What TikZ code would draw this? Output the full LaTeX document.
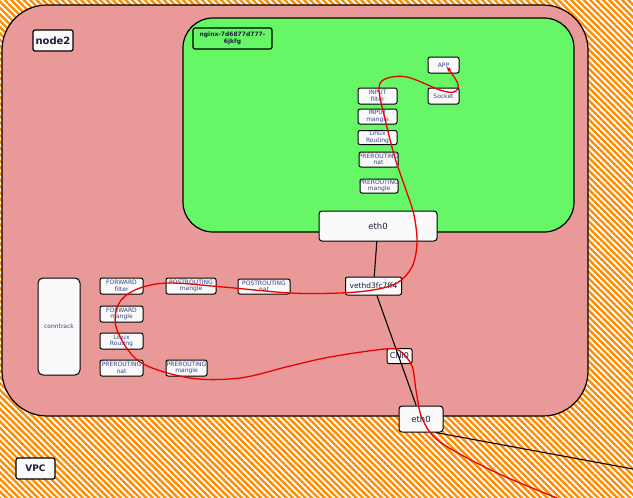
\documentclass[tikz,border=0pt]{standalone}
\usepackage{fontspec}
\setmainfont{DejaVu Sans}
\usetikzlibrary{arrows.meta,patterns.meta}
\definecolor{hatch}{RGB}{255,140,0}
\definecolor{hostbg}{RGB}{234,153,153}
\definecolor{podbg}{RGB}{102,246,102}
\definecolor{boxbg}{RGB}{250,250,250}
\definecolor{lbltxt}{RGB}{55,65,140}
\definecolor{ink}{RGB}{25,30,60}
\definecolor{flowred}{RGB}{235,0,0}
\newcommand{\twoline}[2]{\makebox[0pt]{#1}\\\makebox[0pt]{#2}}
\tikzset{
  area/.style={draw,line width=1.2pt},
  tbl/.style={draw,fill=boxbg,line width=1pt,rounded corners=2pt,align=center,font=\fontsize{6}{6.6}\selectfont,text=lbltxt,inner sep=0pt},
  tblpod/.style={tbl,minimum width=39pt,minimum height=15pt},
  tblhost/.style={tbl,minimum width=43pt,minimum height=16pt},
  ifc/.style={draw,fill=boxbg,line width=1pt,rounded corners=3pt,align=center,text=ink,inner sep=0pt},
  tag/.style={draw,fill=boxbg,line width=1.2pt,rounded corners=2pt,text=ink,font=\bfseries\fontsize{10}{12}\selectfont,inner sep=0pt},
  wire/.style={line width=1.1pt},
  flow/.style={draw=flowred,line width=1.3pt,-{Stealth[length=5pt,width=4.5pt]}}
}
\begin{document}
\begin{tikzpicture}[x=1pt,y=-1pt]
\useasboundingbox (0,0) rectangle (633,498);
\fill[white] (0,0) rectangle (633,498);
\fill[pattern={Lines[angle=-45,distance=4.5pt,line width=2.4pt]},pattern color=hatch] (0,0) rectangle (633,498);
\filldraw[area,fill=hostbg,rounded corners=45pt] (2,5) rectangle (588,416);
\filldraw[area,fill=podbg,rounded corners=30pt] (183,18) rectangle (574,232);

\node[tag,minimum width=40pt,minimum height=21pt] (node2) at (53,40.5) {node2};
\node[tag,minimum width=39pt,minimum height=21pt,font=\bfseries\fontsize{9}{11}\selectfont] (vpc) at (35.5,468.5) {VPC};
\node[draw,line width=1.2pt,rounded corners=2pt,minimum width=79pt,minimum height=21pt,align=center,inner sep=0pt,text=ink,font=\bfseries\fontsize{6}{7}\selectfont] (pod) at (232.5,38.5) {nginx-7d6877d777-\\6jkfg};

\node[tbl,minimum width=31pt,minimum height=16pt] (app) at (443.5,65) {APP};
\node[tbl,minimum width=31pt,minimum height=16pt] (socket) at (443.5,96) {Socket};
\node[tblpod,minimum height=16pt] (infilter) at (377.5,96) {\twoline{INPUT}{filter}};
\node[tblpod] (inmangle) at (377.5,116.5) {\twoline{INPUT}{mangle}};
\node[tblpod,minimum height=14pt] (podroute) at (377.5,137.5) {\twoline{Linux}{Routing}};
\node[tblpod] (podprenat) at (378.5,159.5) {\twoline{PREROUTING}{nat}};
\node[tblpod,minimum width=38pt,minimum height=14pt] (podpremangle) at (379,186) {\twoline{PREROUTING}{mangle}};

\node[ifc,minimum width=118pt,minimum height=30pt,font=\fontsize{8.5}{10}\selectfont] (eth0pod) at (378,226) {eth0};
\node[ifc,rounded corners=2pt,minimum width=56pt,minimum height=18pt,font=\fontsize{7.5}{9}\selectfont] (veth) at (373.5,286) {vethd3fc7ff4};
\node[ifc,rounded corners=2pt,minimum width=25pt,minimum height=15pt,font=\fontsize{8}{9}\selectfont] (cni0) at (399.5,356) {CNI0};
\node[ifc,minimum width=44pt,minimum height=26pt,font=\fontsize{8.5}{10}\selectfont] (eth0host) at (421,419) {eth0};

\node[tbl,rounded corners=5pt,minimum width=42pt,minimum height=97pt] (conntrack) at (59,326.5) {conntrack};
\node[tblhost] (fwdfilter) at (121.5,286) {\twoline{FORWARD}{filter}};
\node[tblhost] (fwdmangle) at (121.5,314) {\twoline{FORWARD}{mangle}};
\node[tblhost] (hostroute) at (121.5,341) {\twoline{Linux}{Routing}};
\node[tblhost] (hostprenat) at (121.5,368) {\twoline{PREROUTING}{nat}};
\node[tblhost,minimum width=50pt] (postmangle) at (191,286) {\twoline{POSTROUTING}{mangle}};
\node[tblhost,minimum width=52pt,minimum height=15pt] (postnat) at (264,286.5) {\twoline{POSTROUTING}{nat}};
\node[tblhost,minimum width=41pt] (hostpremangle) at (186.5,368) {\twoline{PREROUTING}{mangle}};

\coordinate (uplink) at (633,469);
\coordinate (flowin) at (557,498);
\draw[wire] (eth0pod) -- (veth);
\draw[wire] (veth) -- (eth0host);
\draw[wire] ([xshift=-8pt]eth0host.south east) -- (uplink);

\draw[flow] plot[smooth,tension=0.55] coordinates {(flowin) (495,472) (440,442) (422,418) (416,390) (412,366) (400,351) (385,349) (330,357) (290,366) (240,378) (190,378) (140,362) (117,330) (118,305) (135,290) (167,283) (223,287) (290,293) (340,293) (373,290) (397,283) (412,267) (417,243) (414,215) (406,190) (395,158) (386,123) (379,90) (385,79) (407,77) (440,90) (454,92) (458,84) ([xshift=3.5pt,yshift=-2pt]app.center)};
\end{tikzpicture}
\end{document}
